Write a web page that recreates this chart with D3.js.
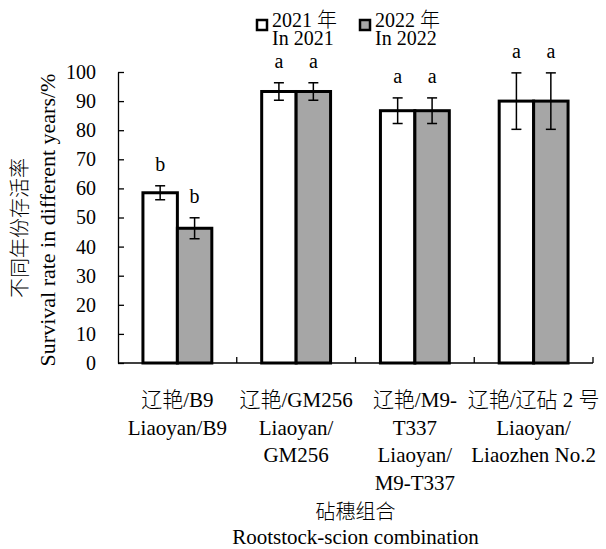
<!DOCTYPE html>
<html>
<head>
<meta charset="utf-8">
<script src="https://cdn.jsdelivr.net/npm/d3@7"></script>
<style>
  html, body { margin: 0; padding: 0; background: #fff; }
  svg { display: block; font-family: "Liberation Serif", "Noto Sans CJK SC", serif; }
  svg text { font-weight: 300; }
</style>
</head>
<body>
<svg id="chart" width="606" height="549"></svg>
<script>
// ---- data ----
const categories = [
  ["辽艳/B9", "Liaoyan/B9"],
  ["辽艳/GM256", "Liaoyan/", "GM256"],
  ["辽艳/M9-", "T337", "Liaoyan/", "M9-T337"],
  ["辽艳/辽砧 2 号", "Liaoyan/", "Liaozhen No.2"]
];
const seriesNames = [["2021 年", "In 2021"], ["2022 年", "In 2022"]];
const values2021 = [58.5, 93.3, 86.7, 90.0];
const values2022 = [46.3, 93.3, 86.7, 90.0];
const errors2021 = [2.4, 3.0, 4.4, 9.7];
const errors2022 = [3.6, 3.0, 4.4, 9.7];
const letters2021 = ["b", "a", "a", "a"];
const letters2022 = ["b", "a", "a", "a"];
const yTicks = [0, 10, 20, 30, 40, 50, 60, 70, 80, 90, 100];
const seriesColors = ["#ffffff", "#a6a6a6"];

// ---- layout ----
const svg = d3.select("#chart");
const pLeft = 118, pRight = 593, pTop = 72, pBottom = 363;

const x = d3.scaleBand().domain(d3.range(categories.length)).range([pLeft, pRight]).padding(0);
const y = d3.scaleLinear().domain([0, 100]).range([pBottom, pTop]);
const groupFrac = 0.58;
const xs = d3.scaleBand().domain([0, 1]).range([0, x.bandwidth() * groupFrac]).padding(0);

const series = [
  { vals: values2021, errs: errors2021, letters: letters2021 },
  { vals: values2022, errs: errors2022, letters: letters2022 }
];

// bars
series.forEach((s, si) => {
  const g = svg.append("g");
  s.vals.forEach((v, ci) => {
    const x0 = x(ci) + x.bandwidth() * (1 - groupFrac) / 2 + xs(si);
    g.append("rect")
      .attr("x", x0).attr("y", y(v))
      .attr("width", xs.bandwidth()).attr("height", y(0) - y(v))
      .attr("fill", seriesColors[si]).attr("stroke", "#000").attr("stroke-width", 3);
  });
});

// error bars and letters
series.forEach((s, si) => {
  s.vals.forEach((v, ci) => {
    const cx = x(ci) + x.bandwidth() * (1 - groupFrac) / 2 + xs(si) + xs.bandwidth() / 2;
    const e = s.errs[ci];
    const yt = y(v + e), yb = y(v - e);
    const cap = 5;
    svg.append("line").attr("x1", cx).attr("x2", cx).attr("y1", yt).attr("y2", yb)
      .attr("stroke", "#000").attr("stroke-width", 1.5);
    [yt, yb].forEach(yy => svg.append("line").attr("x1", cx - cap).attr("x2", cx + cap)
      .attr("y1", yy).attr("y2", yy).attr("stroke", "#000").attr("stroke-width", 1.5));
    svg.append("text").attr("x", cx).attr("y", yt - 15)
      .attr("text-anchor", "middle").attr("font-size", 20).text(s.letters[ci]);
  });
});

// y axis
const yAxis = d3.axisLeft(y).tickValues(yTicks).tickSizeInner(-6).tickSizeOuter(0).tickPadding(22);
const gy = svg.append("g").attr("transform", `translate(${pLeft},0)`).call(yAxis)
  .attr("font-family", null);
gy.select(".domain").attr("stroke", "#000").attr("stroke-width", 1.3);
gy.selectAll(".tick line").attr("stroke", "#000").attr("stroke-width", 1.3);
gy.selectAll(".tick text").attr("font-size", 20).attr("fill", "#000");

// x axis line + boundary ticks
svg.append("line").attr("x1", pLeft).attr("x2", pRight).attr("y1", pBottom).attr("y2", pBottom)
  .attr("stroke", "#000").attr("stroke-width", 1.3);
d3.range(1, categories.length + 1).forEach(i => {
  const bx = pLeft + x.step() * i;
  svg.append("line").attr("x1", bx).attr("x2", bx).attr("y1", pBottom).attr("y2", pBottom - 6)
    .attr("stroke", "#000").attr("stroke-width", 1.3);
});

// category labels
categories.forEach((lines, ci) => {
  const cx = x(ci) + x.bandwidth() / 2;
  const t = svg.append("text").attr("text-anchor", "middle").attr("font-size", 21);
  lines.forEach((ln, li) => {
    t.append("tspan").attr("x", cx).attr("y", pBottom + 44 + li * 27.7).text(ln);
  });
});

// x axis title
const xmid = (pLeft + pRight) / 2;
svg.append("text").attr("x", xmid).attr("y", 519).attr("text-anchor", "middle").attr("font-size", 20).text("砧穗组合");
svg.append("text").attr("x", xmid).attr("y", 544).attr("text-anchor", "middle").attr("font-size", 21).text("Rootstock-scion combination");

// y axis title
svg.append("text").attr("transform", "translate(20,228) rotate(-90)")
  .attr("text-anchor", "middle").attr("dominant-baseline", "central").attr("font-size", 20).text("不同年份存活率");
svg.append("text").attr("transform", "translate(47,220) rotate(-90)")
  .attr("text-anchor", "middle").attr("dominant-baseline", "central").attr("font-size", 22).text("Survival rate in different years/%");

// legend
const legX = [256, 359];
seriesNames.forEach((nm, si) => {
  svg.append("rect").attr("x", legX[si] + 1).attr("y", 20).attr("width", 10).attr("height", 10)
    .attr("fill", seriesColors[si]).attr("stroke", "#000").attr("stroke-width", 2.5);
  const t = svg.append("text").attr("font-size", 20);
  t.append("tspan").attr("x", legX[si] + 16).attr("y", 27).text(nm[0]);
  t.append("tspan").attr("x", legX[si] + 16).attr("y", 44.5).text(nm[1]);
});
</script>
</body>
</html>
